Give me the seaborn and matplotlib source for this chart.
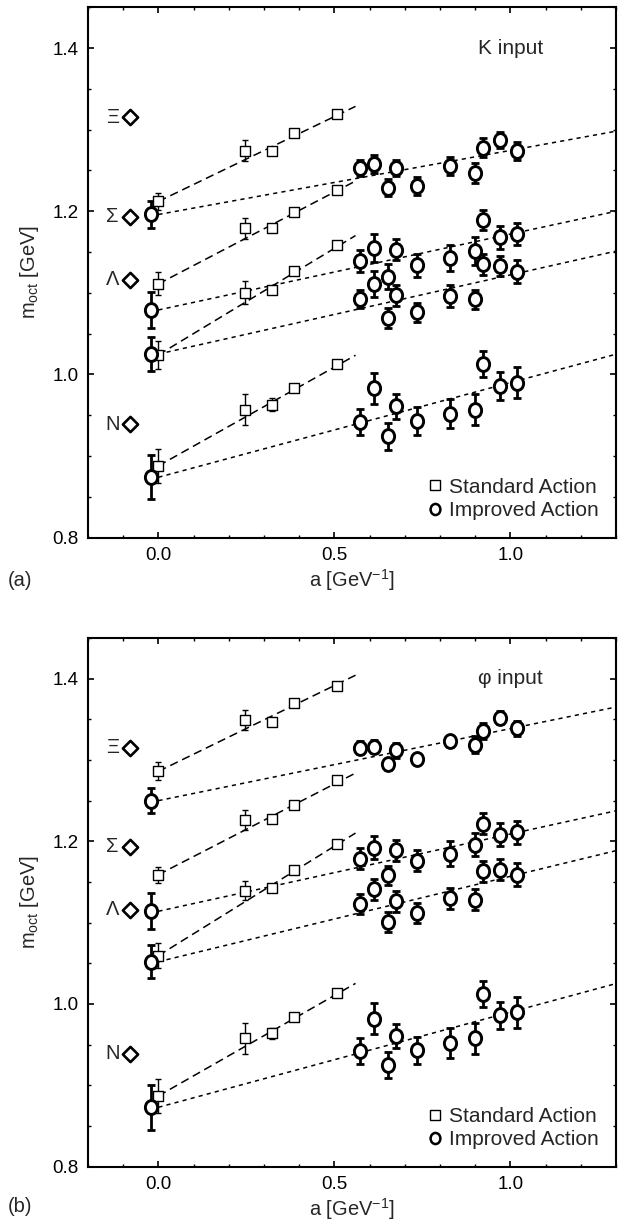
import numpy as np
import pandas as pd
import matplotlib
matplotlib.use("Agg")
import matplotlib.pyplot as plt
import seaborn as sns
from matplotlib.path import Path
from matplotlib.lines import Line2D
from matplotlib.ticker import MultipleLocator

# ---------------- data ----------------
baryons = ["N", "Λ", "Σ", "Ξ"]
m_phys = [0.939, 1.116, 1.193, 1.315]

# lattice spacings [GeV^-1]
a_std = [0.0, 0.245, 0.322, 0.385, 0.508]
a_imp = [0.574, 0.613, 0.653, 0.675, 0.735, 0.829, 0.898, 0.921, 0.970, 1.019]

# (a) K input -- standard action (first entry: continuum value)
std_K = {
    "N": [0.888, 0.957, 0.963, 0.983, 1.013],
    "Λ": [1.024, 1.100, 1.104, 1.127, 1.159],
    "Σ": [1.111, 1.179, 1.180, 1.199, 1.226],
    "Ξ": [1.212, 1.274, 1.274, 1.296, 1.3195],
}
std_K_err = {
    "N": [0.021, 0.019, 0.008, 0.004, 0.004],
    "Λ": [0.017, 0.014, 0.004, 0.005, 0.004],
    "Σ": [0.014, 0.013, 0.004, 0.005, 0.004],
    "Ξ": [0.010, 0.013, 0.005, 0.005, 0.004],
}
std_K_slope = {"N": 0.242, "Λ": 0.261, "Σ": 0.225, "Ξ": 0.208}

# (a) K input -- improved action
imp_K_cont = {"N": 0.874, "Λ": 1.025, "Σ": 1.079, "Ξ": 1.196}
imp_K_cont_err = {"N": 0.027, "Λ": 0.021, "Σ": 0.022, "Ξ": 0.016}
imp_K = {
    "N": [0.942, 0.983, 0.924, 0.961, 0.943, 0.952, 0.957, 1.013, 0.986, 0.990],
    "Λ": [1.092, 1.111, 1.069, 1.097, 1.076, 1.096, 1.092, 1.135, 1.133, 1.126],
    "Σ": [1.139, 1.155, 1.120, 1.153, 1.134, 1.143, 1.151, 1.189, 1.168, 1.172],
    "Ξ": [1.253, 1.258, 1.229, 1.253, 1.231, 1.255, 1.247, 1.278, 1.287, 1.274],
}
imp_K_err = {
    "N": [0.016, 0.019, 0.016, 0.015, 0.017, 0.018, 0.019, 0.016, 0.017, 0.019],
    "Λ": [0.011, 0.016, 0.012, 0.013, 0.012, 0.013, 0.012, 0.013, 0.012, 0.014],
    "Σ": [0.014, 0.017, 0.015, 0.013, 0.014, 0.016, 0.017, 0.012, 0.014, 0.014],
    "Ξ": [0.010, 0.011, 0.010, 0.010, 0.011, 0.011, 0.012, 0.012, 0.010, 0.011],
}
imp_K_slope = {"N": 0.116, "Λ": 0.097, "Σ": 0.093, "Ξ": 0.0785}

# (b) phi input -- standard action
std_phi = {
    "N": [0.887, 0.958, 0.964, 0.984, 1.0135],
    "Λ": [1.0595, 1.1395, 1.142, 1.165, 1.197],
    "Σ": [1.159, 1.226, 1.228, 1.245, 1.275],
    "Ξ": [1.286, 1.349, 1.347, 1.370, 1.391],
}
std_phi_err = {
    "N": [0.021, 0.019, 0.007, 0.004, 0.003],
    "Λ": [0.015, 0.012, 0.004, 0.004, 0.003],
    "Σ": [0.010, 0.012, 0.004, 0.004, 0.003],
    "Ξ": [0.011, 0.012, 0.004, 0.005, 0.003],
}
std_phi_slope = {"N": 0.247, "Λ": 0.269, "Σ": 0.223, "Ξ": 0.211}

# (b) phi input -- improved action
imp_phi_cont = {"N": 0.873, "Λ": 1.052, "Σ": 1.114, "Ξ": 1.250}
imp_phi_cont_err = {"N": 0.028, "Λ": 0.020, "Σ": 0.022, "Ξ": 0.015}
imp_phi = {
    "N": [0.942, 0.982, 0.925, 0.961, 0.943, 0.952, 0.958, 1.012, 0.986, 0.990],
    "Λ": [1.123, 1.141, 1.1005, 1.126, 1.112, 1.130, 1.128, 1.163, 1.165, 1.159],
    "Σ": [1.1785, 1.192, 1.158, 1.189, 1.176, 1.185, 1.196, 1.2215, 1.208, 1.211],
    "Ξ": [1.315, 1.316, 1.2945, 1.312, 1.3015, 1.323, 1.319, 1.336, 1.352, 1.339],
}
imp_phi_err = {
    "N": [0.016, 0.019, 0.016, 0.015, 0.017, 0.018, 0.019, 0.016, 0.017, 0.019],
    "Λ": [0.012, 0.013, 0.012, 0.013, 0.012, 0.013, 0.013, 0.013, 0.013, 0.014],
    "Σ": [0.013, 0.014, 0.012, 0.013, 0.013, 0.015, 0.014, 0.013, 0.014, 0.014],
    "Ξ": [0.008, 0.008, 0.007, 0.009, 0.006, 0.007, 0.010, 0.010, 0.008, 0.009],
}
imp_phi_slope = {"N": 0.117, "Λ": 0.105, "Σ": 0.095, "Ξ": 0.0885}

# ---------------- style ----------------
sns.set_theme(style="ticks")
plt.rcParams.update({
    "xtick.direction": "in", "ytick.direction": "in",
    "xtick.top": True, "ytick.right": True,
    "xtick.major.size": 4.5, "ytick.major.size": 4.5,
    "xtick.minor.size": 2.5, "ytick.minor.size": 2.5,
    "xtick.major.width": 1.2, "ytick.major.width": 1.2,
    "xtick.minor.width": 1.0, "ytick.minor.width": 1.0,
    "axes.linewidth": 1.5, "axes.edgecolor": "black",
    "xtick.color": "black", "ytick.color": "black",
    "lines.scale_dashes": False,
    "mathtext.default": "regular",
})
plt.rcParams["font.family"] = ["Liberation Sans", "DejaVu Sans"]

# slightly tall open ellipse for the improved-action points
_circ = Path.unit_circle()
oval = Path(_circ.vertices * np.array([0.88, 1.0]), _circ.codes)

LONG = (0, (6, 3.5))
SHORT = (0, (3, 3))
std_end = 0.56
imp_end = 1.3
cont_shift = -0.022   # continuum improved point drawn just left of a=0


def draw_panel(ax, std, std_err, std_slope, imp_c, imp_c_err, imp, imp_err,
               imp_slope, input_label):
    for b in baryons:
        # extrapolation fits
        xs = np.array([0.0, std_end])
        sns.lineplot(x=xs, y=std[b][0] + std_slope[b] * xs, ax=ax,
                     color="black", lw=1.1, linestyle=LONG, zorder=2)
        xi = np.array([0.0, imp_end])
        sns.lineplot(x=xi, y=imp_c[b] + imp_slope[b] * xi, ax=ax,
                     color="black", lw=1.1, linestyle=SHORT, zorder=2)

        # standard action
        ax.errorbar(a_std, std[b], yerr=std_err[b], fmt="none", ecolor="black",
                    elinewidth=1.0, capsize=2.5, capthick=1.0, zorder=3)
        sns.scatterplot(x=a_std, y=std[b], ax=ax, marker="s", s=50,
                        facecolor="white", edgecolor="black", linewidth=1.0,
                        zorder=4)

        # improved action
        ai = [cont_shift] + a_imp
        mi = [imp_c[b]] + imp[b]
        ei = [imp_c_err[b]] + imp_err[b]
        ax.errorbar(ai, mi, yerr=ei, fmt="none", ecolor="black",
                    elinewidth=2.0, capsize=3.0, capthick=2.0, zorder=3)
        sns.scatterplot(x=ai, y=mi, ax=ax, marker=oval, s=100,
                        facecolor="white", edgecolor="black", linewidth=2.1,
                        zorder=5)

    # experimental masses
    sns.scatterplot(x=[-0.081] * len(baryons), y=m_phys, ax=ax, marker="D",
                    s=60, facecolor="white", edgecolor="black", linewidth=1.9,
                    zorder=5)
    for b, m in zip(baryons, m_phys):
        ax.text(-0.131, m, b, ha="center", va="center", fontsize=14.5)

    ax.text(1.0, 1.40, input_label, ha="center", va="center", fontsize=15)

    ax.set_xlim(-0.2, 1.3)
    ax.set_ylim(0.8, 1.45)
    ax.xaxis.set_minor_locator(MultipleLocator(0.1))
    ax.yaxis.set_minor_locator(MultipleLocator(0.05))
    ax.set_xticks([0.0, 0.5, 1.0])
    ax.set_xticklabels(["0.0", "0.5", "1.0"])
    ax.set_yticks([0.8, 1.0, 1.2, 1.4])
    ax.set_yticklabels(["0.8", "1.0", "1.2", "1.4"])
    ax.tick_params(axis="both", which="major", labelsize=13.5, pad=7)
    ax.set_xlabel("a [GeV$^{-1}$]", fontsize=14.5, labelpad=2)
    ax.set_ylabel("$m_{oct}$ [GeV]", fontsize=14.5, labelpad=8)

    handles = [
        Line2D([], [], ls="none", marker="s", ms=6.5, mfc="white",
               mec="black", mew=1.0),
        Line2D([], [], ls="none", marker=oval, ms=8, mfc="white",
               mec="black", mew=1.8),
    ]
    ax.legend(handles, ["Standard Action", "Improved Action"], loc="lower right",
              frameon=False, fontsize=15, handlelength=0.6, handletextpad=0.35,
              labelspacing=0.2, borderaxespad=0.45)


fig = plt.figure(figsize=(6.18, 12.2), dpi=100)
ax_a = fig.add_axes([0.1424, 0.5593, 0.8544, 0.4348])
ax_b = fig.add_axes([0.1424, 0.0437, 0.8544, 0.4334])

draw_panel(ax_a, std_K, std_K_err, std_K_slope, imp_K_cont, imp_K_cont_err,
           imp_K, imp_K_err, imp_K_slope, "K input")
draw_panel(ax_b, std_phi, std_phi_err, std_phi_slope, imp_phi_cont,
           imp_phi_cont_err, imp_phi, imp_phi_err, imp_phi_slope, "φ input")

fig.text(8 / 618, 1 - 580 / 1220, "(a)", fontsize=14.5, ha="left", va="center")
fig.text(8 / 618, 1 - 1206 / 1220, "(b)", fontsize=14.5, ha="left", va="center")

fig.savefig("out.png", dpi=100, facecolor="white")
